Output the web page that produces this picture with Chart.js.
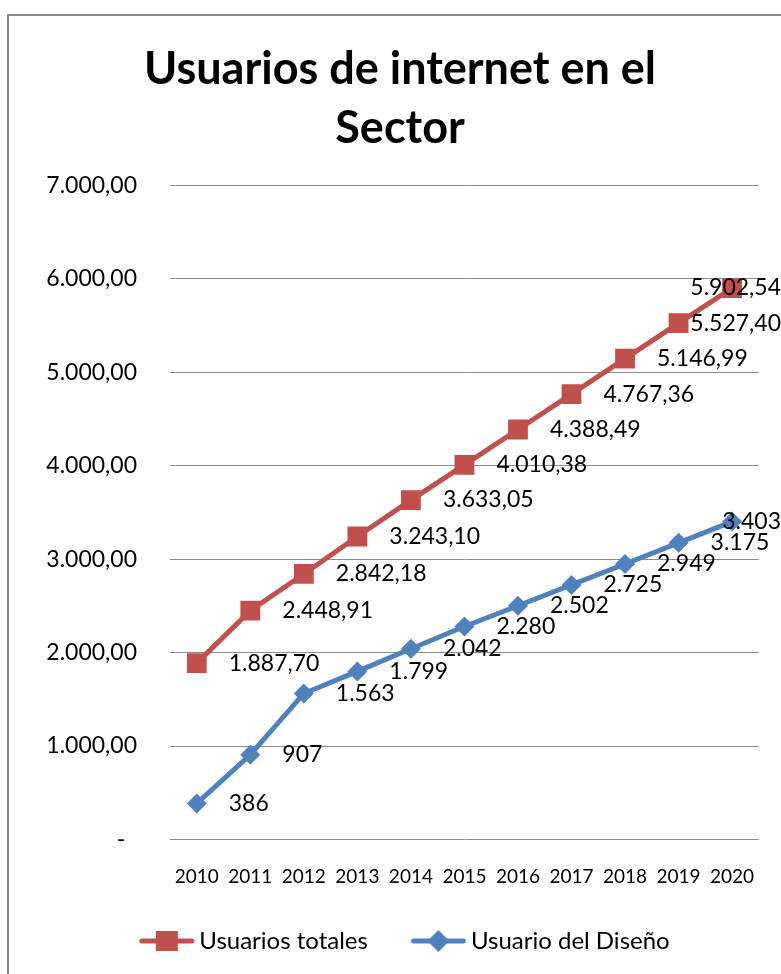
<!DOCTYPE html>
<html>
<head>
<meta charset="utf-8">
<script src="https://cdn.jsdelivr.net/npm/chart.js@4/dist/chart.umd.min.js"></script>
<style>
  html, body { margin: 0; padding: 0; background: #fff; }
  #wrap { position: relative; width: 781px; height: 974px; overflow: hidden; }
  #frame { position: absolute; left: 7px; top: 14px; width: 900px; height: 1100px;
           border-left: 2px solid #8a8a8a; border-top: 2px solid #8a8a8a; box-sizing: border-box; }
  canvas { position: absolute; left: 0; top: 0; }
</style>
</head>
<body>
<div id="wrap">
  <div id="frame"></div>
  <canvas id="c" width="781" height="974"></canvas>
</div>
<script>
// ---- data ----
const years = ['2010', '2011', '2012', '2013', '2014', '2015', '2016', '2017', '2018', '2019', '2020'];
const totalUsers = [1887.70, 2448.91, 2842.18, 3243.10, 3633.05, 4010.38, 4388.49, 4767.36, 5146.99, 5527.40, 5902.54];
const designUsers = [386, 907, 1563, 1799, 2042, 2280, 2502, 2725, 2949, 3175, 3403];
const seriesNames = ['Usuarios totales', 'Usuario del Diseño'];
const titleLines = ['Usuarios de internet en el', 'Sector'];
const yMin = 0, yMax = 7000, yStep = 1000;
const zeroTickLabel = '-';

// ---- styles ----
const RED = '#C0504D';
const BLUE = '#4F81BD';
const FONT = 'Lato';

function fmt(v, dec) {
  const s = Number(v).toFixed(dec);
  let [i, d] = s.split('.');
  i = i.replace(/\B(?=(\d{3})+(?!\d))/g, '.');
  return d ? i + ',' + d : i;
}

function legendGlyph(color, shape) {
  const shift = 16, w = 56, h = 26;
  const c = document.createElement('canvas');
  c.width = w + shift; c.height = h;
  const g = c.getContext('2d');
  const cy = h / 2;
  g.strokeStyle = color; g.fillStyle = color;
  g.lineWidth = 5; g.lineCap = 'round';
  g.beginPath(); g.moveTo(shift + 3, cy); g.lineTo(shift + w - 3, cy); g.stroke();
  const cx = shift + w / 2;
  g.beginPath();
  if (shape === 'rect') {
    g.rect(cx - 11, cy - 10, 22, 20);
  } else {
    const r = 11;
    g.moveTo(cx, cy - r); g.lineTo(cx + r, cy); g.lineTo(cx, cy + r); g.lineTo(cx - r, cy); g.closePath();
  }
  g.fill();
  return c;
}

const dataLabelPlugin = {
  id: 'dataLabels',
  afterDatasetsDraw(chart) {
    const ctx = chart.ctx;
    ctx.save();
    ctx.font = '23px ' + FONT;
    ctx.fillStyle = '#000';
    ctx.textBaseline = 'middle';
    ctx.textAlign = 'left';
    chart.data.datasets.forEach((ds, di) => {
      const meta = chart.getDatasetMeta(di);
      meta.data.forEach((pt, i) => {
        const txt = fmt(ds.data[i], ds.labelDecimals);
        const w = ctx.measureText(txt).width;
        let x = pt.x + 32;
        if (x + w > chart.width) x = chart.width - w;
        ctx.fillText(txt, x, pt.y);
      });
    });
    ctx.restore();
  }
};

function build() {
  Chart.defaults.color = '#000';
  Chart.defaults.font.family = FONT;
  const glyphs = [legendGlyph(RED, 'rect'), legendGlyph(BLUE, 'diamond')];
  new Chart(document.getElementById('c'), {
    type: 'line',
    data: {
      labels: years,
      datasets: [
        {
          label: seriesNames[0], data: totalUsers, labelDecimals: 2,
          borderColor: RED, backgroundColor: RED, borderWidth: 5,
          pointStyle: 'rect', pointRadius: 14, pointBorderWidth: 0,
          pointBackgroundColor: RED, pointBorderColor: RED, tension: 0
        },
        {
          label: seriesNames[1], data: designUsers, labelDecimals: 0,
          borderColor: BLUE, backgroundColor: BLUE, borderWidth: 5,
          pointStyle: 'rectRot', pointRadius: 10, pointBorderWidth: 0,
          pointBackgroundColor: BLUE, pointBorderColor: BLUE, tension: 0
        }
      ]
    },
    options: {
      responsive: false,
      animation: false,
      layout: { padding: { top: 40, left: 38, right: 19, bottom: 11 } },
      scales: {
        x: {
          type: 'category',
          offset: true,
          grid: { display: false, drawTicks: false },
          border: { display: false },
          ticks: { font: { size: 19, family: FONT }, color: '#000', padding: 26, maxRotation: 0, autoSkip: false },
          afterFit(scale) { scale.height = 55.5; }
        },
        y: {
          min: yMin, max: yMax,
          grid: { color: '#8c8c8c', lineWidth: 1, drawTicks: false },
          border: { display: false },
          ticks: {
            stepSize: yStep,
            font: { size: 23, family: FONT }, color: '#000', padding: 33,
            callback: (v) => v === 0 ? zeroTickLabel + '\u00a0\u00a0' : fmt(v, 2)
          },
          afterFit(scale) { scale.width = 132; }
        }
      },
      plugins: {
        title: {
          display: true,
          text: titleLines,
          color: '#000',
          font: { family: FONT, size: 45, weight: 'bold', lineHeight: '59px' },
          padding: { top: 0, bottom: 27.5 }
        },
        legend: {
          display: true,
          position: 'bottom',
          labels: {
            usePointStyle: true,
            pointStyleWidth: 57,
            padding: 34,
            color: '#000',
            font: { family: FONT, size: 24 },
            generateLabels(chart) {
              return chart.data.datasets.map((ds, i) => ({
                text: ds.label,
                pointStyle: glyphs[i],
                fillStyle: ds.borderColor,
                strokeStyle: ds.borderColor,
                lineWidth: 0,
                hidden: false,
                datasetIndex: i,
                fontColor: '#000'
              }));
            }
          }
        },
        tooltip: { enabled: false }
      }
    },
    plugins: [dataLabelPlugin]
  });
}

if (document.fonts && document.fonts.load) {
  Promise.all([
    document.fonts.load('bold 45px Lato'),
    document.fonts.load('23px Lato')
  ]).then(build, build);
} else {
  build();
}
</script>
</body>
</html>
